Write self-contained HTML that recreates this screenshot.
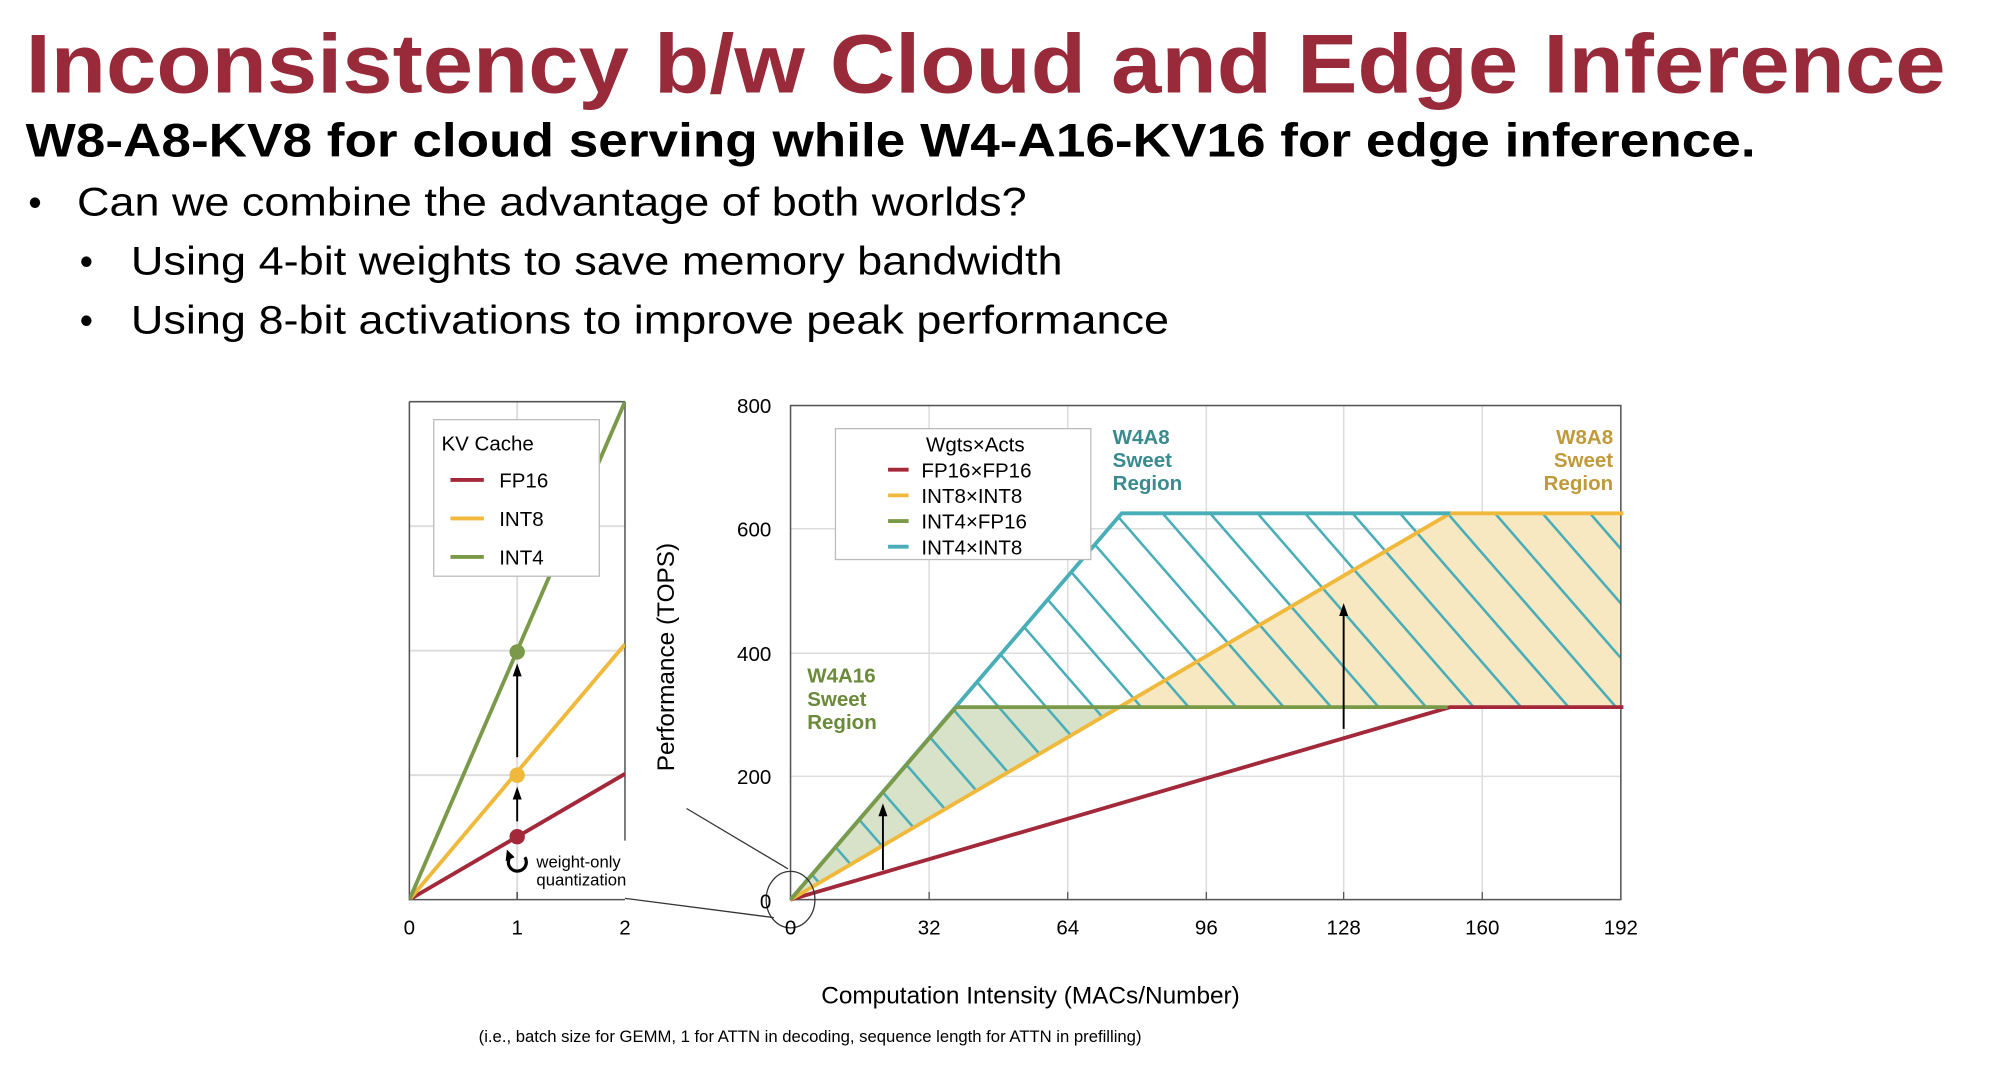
<!DOCTYPE html>
<html><head><meta charset="utf-8"><style>
html,body{margin:0;padding:0;background:#fff;}
svg{display:block;}
text{font-family:"Liberation Sans",sans-serif;}
</style></head><body>
<svg width="2002" height="1078" viewBox="0 0 1560 840" xmlns="http://www.w3.org/2000/svg">
<defs>
<clipPath id="hc"><polygon points="616,701 874,400 1263,400 1263,551 872,551"/></clipPath>
<clipPath id="lc"><rect x="319" y="313" width="168" height="388"/></clipPath>
</defs>
<!-- header -->
<text x="20" y="72" font-size="65" font-weight="bold" fill="#982a3a" textLength="1496" lengthAdjust="spacingAndGlyphs">Inconsistency b/w Cloud and Edge Inference</text>
<text x="20" y="122" font-size="37" font-weight="bold" fill="#000" textLength="1348" lengthAdjust="spacingAndGlyphs">W8-A8-KV8 for cloud serving while W4-A16-KV16 for edge inference.</text>
<text x="22" y="168" font-size="30" fill="#000">•</text>
<text x="60" y="168" font-size="31" fill="#000" textLength="740" lengthAdjust="spacingAndGlyphs">Can we combine the advantage of both worlds?</text>
<text x="62" y="214" font-size="30" fill="#000">•</text>
<text x="102" y="214" font-size="31" fill="#000" textLength="726" lengthAdjust="spacingAndGlyphs">Using 4-bit weights to save memory bandwidth</text>
<text x="62" y="260" font-size="30" fill="#000">•</text>
<text x="102" y="260" font-size="31" fill="#000" textLength="809" lengthAdjust="spacingAndGlyphs">Using 8-bit activations to improve peak performance</text>

<!-- left chart -->
<g stroke="#ddd" stroke-width="1.5">
<line x1="319" y1="604" x2="487" y2="604"/><line x1="319" y1="507" x2="487" y2="507"/><line x1="319" y1="410" x2="487" y2="410"/>
<line x1="403" y1="313" x2="403" y2="701"/>
</g>
<g stroke="#555" stroke-width="1.2" fill="none">
<polyline points="319,313 319,701 487,701"/>
<line x1="319" y1="313" x2="487" y2="313"/>
<line x1="487" y1="313" x2="487" y2="655"/>
<line x1="403" y1="695" x2="403" y2="701"/>
</g>
<g clip-path="url(#lc)" stroke-width="3" fill="none">
<line x1="319" y1="701" x2="487" y2="603" stroke="#a3283a"/>
<line x1="319" y1="701" x2="487" y2="502" stroke="#f0b93c"/>
<line x1="319" y1="701" x2="487" y2="313" stroke="#7a9a4a"/>
</g>
<rect x="338" y="327" width="129" height="122" fill="#fff" stroke="#bbb"/>
<text x="344" y="351" font-size="16">KV Cache</text>
<line x1="351" y1="374" x2="377" y2="374" stroke="#a3283a" stroke-width="3"/><text x="389" y="380" font-size="16">FP16</text>
<line x1="351" y1="404" x2="377" y2="404" stroke="#f0b93c" stroke-width="3"/><text x="389" y="410" font-size="16">INT8</text>
<line x1="351" y1="434" x2="377" y2="434" stroke="#7a9a4a" stroke-width="3"/><text x="389" y="440" font-size="16">INT4</text>
<circle cx="403" cy="508" r="6" fill="#7a9a4a"/>
<circle cx="403" cy="604" r="6" fill="#f0b93c"/>
<circle cx="403" cy="652" r="6" fill="#a3283a"/>
<line x1="403" y1="590" x2="403" y2="526" stroke="#000" stroke-width="1.5"/>
<polygon points="403,517 399.5,527 406.5,527" fill="#000"/>
<line x1="403" y1="640" x2="403" y2="622" stroke="#000" stroke-width="1.5"/>
<polygon points="403,613 399.5,623 406.5,623" fill="#000"/>
<path d="M409,668 A7,7 0 1 1 398,667" fill="none" stroke="#000" stroke-width="2.5"/>
<path d="M395,662 L401,668 L394,671 Z" fill="#000"/>
<text x="418" y="676" font-size="13">weight-only</text>
<text x="418" y="690" font-size="13">quantization</text>
<g font-size="16" text-anchor="middle"><text x="319" y="728">0</text><text x="403" y="728">1</text><text x="487" y="728">2</text></g>

<!-- connectors -->
<line x1="535" y1="630" x2="614" y2="677" stroke="#333" stroke-width="1"/>
<line x1="487" y1="700" x2="603" y2="715" stroke="#333" stroke-width="1"/>

<!-- right chart grid -->
<g stroke="#ddd" stroke-width="1.2">
<line x1="616" y1="605" x2="1263" y2="605"/><line x1="616" y1="509" x2="1263" y2="509"/><line x1="616" y1="412" x2="1263" y2="412"/>
<line x1="724" y1="316" x2="724" y2="701"/><line x1="832" y1="316" x2="832" y2="701"/><line x1="940" y1="316" x2="940" y2="701"/><line x1="1047" y1="316" x2="1047" y2="701"/><line x1="1155" y1="316" x2="1155" y2="701"/>
</g>
<!-- fills -->
<polygon points="616,701 745,551 872,551" fill="#d8e2c8"/>
<polygon points="872,551 1130,400 1263,400 1263,551" fill="#f8e8c2"/>
<g clip-path="url(#hc)" stroke="#4aaeb8" stroke-width="2">
<path d="M560,300 l400,460 M597,300 l400,460 M634,300 l400,460 M671,300 l400,460 M708,300 l400,460 M745,300 l400,460 M782,300 l400,460 M819,300 l400,460 M856,300 l400,460 M893,300 l400,460 M930,300 l400,460 M967,300 l400,460 M1004,300 l400,460 M1041,300 l400,460 M1078,300 l400,460 M1115,300 l400,460 M1152,300 l400,460 M1189,300 l400,460 M1226,300 l400,460 M523,300 l400,460 M486,300 l400,460 M449,300 l400,460 M412,300 l400,460 M375,300 l400,460 M338,300 l400,460 M301,300 l400,460"/>
</g>
<!-- frame -->
<rect x="616" y="316" width="647" height="385" fill="none" stroke="#555" stroke-width="1.2"/>
<g stroke="#555" stroke-width="1"><line x1="724" y1="695" x2="724" y2="701"/><line x1="832" y1="695" x2="832" y2="701"/><line x1="940" y1="695" x2="940" y2="701"/><line x1="1047" y1="695" x2="1047" y2="701"/><line x1="1155" y1="695" x2="1155" y2="701"/></g>
<!-- lines -->
<g fill="none" stroke-width="3" stroke-linejoin="round">
<polyline points="616,701 1130,551 1265,551" stroke="#a3283a"/>
<polyline points="616,701 1130,400 1265,400" stroke="#f0b93c"/>
<polyline points="616,701 874,400 1130,400" stroke="#4aaeb8"/>
<polyline points="616,701 745,551 1128,551" stroke="#7a9a4a"/>
</g>
<line x1="688" y1="678" x2="688" y2="635" stroke="#000" stroke-width="1.5"/>
<polygon points="688,626 684.5,636 691.5,636" fill="#000"/>
<line x1="1047" y1="568" x2="1047" y2="479" stroke="#000" stroke-width="1.5"/>
<polygon points="1047,470 1043.5,480 1050.5,480" fill="#000"/>
<ellipse cx="616" cy="701" rx="19" ry="22" fill="none" stroke="#333" stroke-width="1"/>
<!-- legend -->
<rect x="651" y="334" width="199" height="102" fill="#fff" stroke="#bbb"/>
<text x="760" y="352" font-size="16" text-anchor="middle">Wgts×Acts</text>
<line x1="692" y1="366" x2="708" y2="366" stroke="#a3283a" stroke-width="3"/><text x="718" y="372" font-size="16">FP16×FP16</text>
<line x1="692" y1="386" x2="708" y2="386" stroke="#f0b93c" stroke-width="3"/><text x="718" y="392" font-size="16">INT8×INT8</text>
<line x1="692" y1="406" x2="708" y2="406" stroke="#7a9a4a" stroke-width="3"/><text x="718" y="412" font-size="16">INT4×FP16</text>
<line x1="692" y1="426" x2="708" y2="426" stroke="#4aaeb8" stroke-width="3"/><text x="718" y="432" font-size="16">INT4×INT8</text>
<!-- region labels -->
<g font-size="16" font-weight="bold">
<g fill="#3a8a8e"><text x="867" y="346">W4A8</text><text x="867" y="364">Sweet</text><text x="867" y="382">Region</text></g>
<g fill="#c09a3a" text-anchor="end"><text x="1257" y="346">W8A8</text><text x="1257" y="364">Sweet</text><text x="1257" y="382">Region</text></g>
<g fill="#6b8a3a"><text x="629" y="532">W4A16</text><text x="629" y="550">Sweet</text><text x="629" y="568">Region</text></g>
</g>
<!-- axes labels -->
<g font-size="16" text-anchor="end"><text x="601" y="322">800</text><text x="601" y="418">600</text><text x="601" y="515">400</text><text x="601" y="611">200</text><text x="601" y="708">0</text></g>
<g font-size="16" text-anchor="middle"><text x="616" y="728">0</text><text x="724" y="728">32</text><text x="832" y="728">64</text><text x="940" y="728">96</text><text x="1047" y="728">128</text><text x="1155" y="728">160</text><text x="1263" y="728">192</text></g>
<text transform="translate(525,512) rotate(-90)" font-size="19" text-anchor="middle">Performance (TOPS)</text>
<text x="803" y="782" font-size="19" text-anchor="middle">Computation Intensity (MACs/Number)</text>
<text x="373" y="812" font-size="13">(i.e., batch size for GEMM, 1 for ATTN in decoding, sequence length for ATTN in prefilling)</text>
</svg>
</body></html>
